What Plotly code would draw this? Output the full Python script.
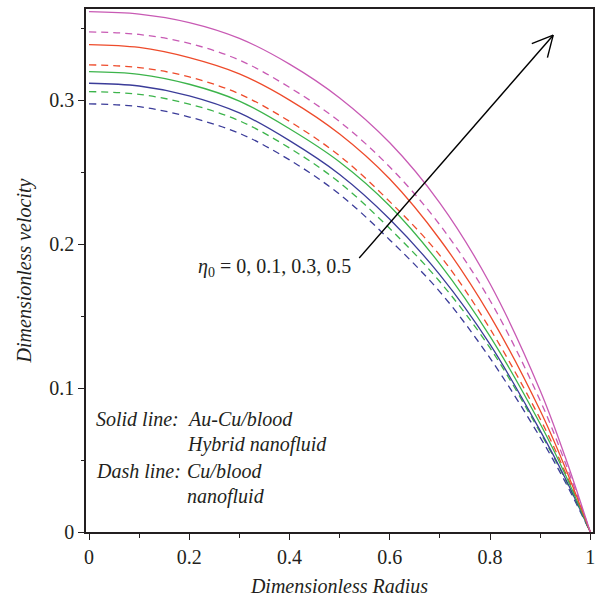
import plotly.graph_objects as go

# Dimensionless radius sample points
radius = [0, 0.1, 0.2, 0.3, 0.4, 0.5, 0.6, 0.7, 0.8, 0.9, 0.95, 1.0]

# Solid lines: Au-Cu/blood hybrid nanofluid, eta0 = 0, 0.1, 0.3, 0.5
hybrid_eta0 = [0.3119, 0.3100, 0.3032, 0.2913, 0.2720, 0.2485, 0.2174, 0.1787, 0.1304, 0.0705, 0.0374, 0]
hybrid_eta01 = [0.3200, 0.3181, 0.3112, 0.2995, 0.2803, 0.2572, 0.2266, 0.1862, 0.1360, 0.0752, 0.0400, 0]
hybrid_eta03 = [0.3388, 0.3368, 0.3297, 0.3184, 0.3002, 0.2766, 0.2453, 0.2033, 0.1504, 0.0844, 0.0447, 0]
hybrid_eta05 = [0.3617, 0.3600, 0.3541, 0.3431, 0.3252, 0.3017, 0.2705, 0.2286, 0.1725, 0.0984, 0.0521, 0]

# Dashed lines: Cu/blood nanofluid, eta0 = 0, 0.1, 0.3, 0.5
nano_eta0 = [0.2976, 0.2956, 0.2884, 0.2771, 0.2586, 0.2347, 0.2030, 0.1669, 0.1208, 0.0658, 0.0348, 0]
nano_eta01 = [0.3061, 0.3042, 0.2974, 0.2858, 0.2669, 0.2428, 0.2109, 0.1739, 0.1279, 0.0692, 0.0367, 0]
nano_eta03 = [0.3247, 0.3228, 0.3163, 0.3045, 0.2854, 0.2614, 0.2296, 0.1922, 0.1412, 0.0786, 0.0416, 0]
nano_eta05 = [0.3476, 0.3458, 0.3396, 0.3280, 0.3090, 0.2852, 0.2537, 0.2134, 0.1609, 0.0914, 0.0483, 0]

eta_labels = ["0", "0.1", "0.3", "0.5"]
colors = ["#3B3C99", "#3CB44B", "#EE4B2B", "#C85AB4"]

x_ticks = [0, 0.2, 0.4, 0.6, 0.8, 1]
y_ticks = [0, 0.1, 0.2, 0.3]

FONT = "Liberation Serif"
INK = "#231f20"

fig = go.Figure()

hybrid = [hybrid_eta0, hybrid_eta01, hybrid_eta03, hybrid_eta05]
nano = [nano_eta0, nano_eta01, nano_eta03, nano_eta05]

for vals, col, lab in zip(nano, colors, eta_labels):
    fig.add_trace(go.Scatter(x=radius, y=vals, mode="lines",
                             line=dict(color=col, width=1.3, dash="7px,5px", shape="spline", smoothing=1),
                             name="Cu/blood, η0=" + lab, showlegend=False))
for vals, col, lab in zip(hybrid, colors, eta_labels):
    fig.add_trace(go.Scatter(x=radius, y=vals, mode="lines",
                             line=dict(color=col, width=1.3, shape="spline", smoothing=1),
                             name="Au-Cu/blood, η0=" + lab, showlegend=False))

# Arrow (tail -> head) plus open head wings
tail = (0.539, 0.1904)
head = (0.926, 0.3453)
wing1 = (0.8833, 0.3394)
wing2 = (0.9145, 0.3297)
shapes = [
    dict(type="line", x0=tail[0], y0=tail[1], x1=head[0], y1=head[1],
         line=dict(color="black", width=1.4)),
    dict(type="line", x0=wing1[0], y0=wing1[1], x1=head[0], y1=head[1],
         line=dict(color="black", width=1.4)),
    dict(type="line", x0=wing2[0], y0=wing2[1], x1=head[0], y1=head[1],
         line=dict(color="black", width=1.4)),
]

ann_font = dict(family=FONT, size=20, color=INK)
annotations = [
    dict(x=0.214, y=0.1835, xref="x", yref="y", xanchor="left", yanchor="middle",
         text="<i>η</i><sub>0</sub> = 0, 0.1, 0.3, 0.5", showarrow=False, font=ann_font),
    dict(x=0.010, y=0.0788, xanchor="left", yanchor="middle", text="<i>Solid line:</i>",
         showarrow=False, font=ann_font),
    dict(x=0.010, y=0.0427, xanchor="left", yanchor="middle", text="<i>Dash line:</i>",
         showarrow=False, font=ann_font),
    dict(x=0.191, y=0.0788, xanchor="left", yanchor="middle", text="<i>Au-Cu/blood</i>",
         showarrow=False, font=ann_font),
    dict(x=0.191, y=0.0610, xanchor="left", yanchor="middle", text="<i>Hybrid nanofluid</i>",
         showarrow=False, font=ann_font),
    dict(x=0.191, y=0.0427, xanchor="left", yanchor="middle", text="<i>Cu/blood</i>",
         showarrow=False, font=ann_font),
    dict(x=0.191, y=0.0247, xanchor="left", yanchor="middle", text="<i>nanofluid</i>",
         showarrow=False, font=ann_font),
]

axis_common = dict(showgrid=False, zeroline=False, showline=True, linecolor=INK,
                   linewidth=1.5, mirror=True, ticks="outside", ticklen=6, tickwidth=1,
                   tickcolor=INK, tickfont=dict(family=FONT, size=20, color=INK))

fig.update_layout(
    width=602, height=603,
    margin=dict(l=86, r=7, t=8, b=71),
    paper_bgcolor="white", plot_bgcolor="white",
    shapes=shapes, annotations=annotations,
    xaxis=dict(range=[-0.006, 1.0054], tickvals=x_ticks,
               ticktext=[("%g" % v) for v in x_ticks],
               minor=dict(ticks="outside", ticklen=4, dtick=0.1, tickcolor=INK),
               title=dict(text="<i>Dimensionless Radius</i>", standoff=12,
                          font=dict(family=FONT, size=20, color=INK)),
               **axis_common),
    yaxis=dict(range=[0, 0.3635], tickvals=y_ticks,
               ticktext=[("%g" % v) for v in y_ticks],
               minor=dict(ticks="outside", ticklen=3, dtick=0.05, tickcolor=INK),
               title=dict(text="<i>Dimensionless velocity</i>", standoff=12,
                          font=dict(family=FONT, size=20, color=INK)),
               **axis_common),
)

fig.write_html("out.html")
